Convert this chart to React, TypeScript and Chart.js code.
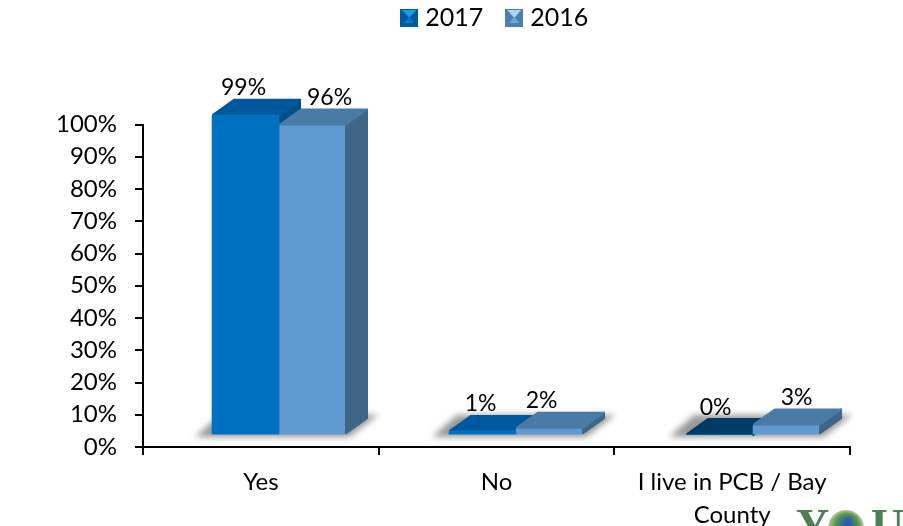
import React, { useEffect, useRef } from "react";
import { Chart, registerables } from "chart.js";

Chart.register(...registerables);

const categories = ["Yes", "No", ["I live in PCB / Bay", "County"]];
const seriesNames = ["2017", "2016"];
const values2017 = [99, 1, 0];
const values2016 = [96, 2, 3];
const yTicks = [0, 10, 20, 30, 40, 50, 60, 70, 80, 90, 100];
const FONT = "Lato, 'Open Sans', sans-serif";

const DX = 22;
const DY = 16;
const frontColors = ["#0070c0", "#5f9bd2"];
const topColors = ["#00589c", "#4a7aa6"];
const sideColors = ["#004f88", "#3f6588"];
const zeroTopColor = "#003a66";
const labelShiftX = [[-2, -2, -4], [17, -8, 10]];

function swatch(c1: string, c2: string, c3: string) {
  const c = document.createElement("canvas");
  c.width = 18;
  c.height = 18;
  const g = c.getContext("2d")!;
  const tri = (pts: number[][], col: string) => {
    g.fillStyle = col;
    g.beginPath();
    pts.forEach((p, i) => (i ? g.lineTo(p[0], p[1]) : g.moveTo(p[0], p[1])));
    g.closePath();
    g.fill();
  };
  tri([[0, 0], [18, 0], [18, 18], [0, 18]], c3);
  tri([[2, 1], [16, 1], [9, 9]], c1);
  tri([[4, 14], [14, 14], [9, 8]], c2);
  return c;
}

const box3d = {
  id: "box3d",
  beforeDatasetsDraw(chart: any) {
    const ctx = chart.ctx;
    ctx.save();
    ctx.filter = "blur(3px)";
    ctx.fillStyle = "#989898";
    const m0 = chart.getDatasetMeta(0).data;
    const m1 = chart.getDatasetMeta(1).data;
    m0.forEach((bar: any, i: number) => {
      const l = bar.x - bar.width / 2;
      const r = m1[i].x + m1[i].width / 2;
      const b = bar.base;
      ctx.beginPath();
      ctx.moveTo(l - 17, b + 3);
      ctx.lineTo(r + 3, b + 3);
      ctx.lineTo(r + DX + 10, b - DY - 3);
      ctx.lineTo(l + 8, b - DY - 3);
      ctx.closePath();
      ctx.fill();
    });
    ctx.restore();
    faces(chart, 0);
  },
  afterDatasetDraw(chart: any, args: any) {
    if (args.index === 1) faces(chart, 1);
  },
  afterDraw(chart: any) {
    const ctx = chart.ctx;
    ctx.save();
    ctx.font = `23px ${FONT}`;
    ctx.fillStyle = "#000";
    ctx.textAlign = "center";
    ctx.textBaseline = "middle";
    [values2017, values2016].forEach((vals, d) => {
      const meta = chart.getDatasetMeta(d).data;
      vals.forEach((v, i) => {
        ctx.fillText(`${v}%`, meta[i].x + labelShiftX[d][i], meta[i].y - 27);
      });
    });
    // logo fragment cut by the lower edge of the picture
    ctx.font = "bold 46px 'Liberation Serif', serif";
    ctx.fillStyle = "#4d7f52";
    ctx.textAlign = "left";
    ctx.textBaseline = "alphabetic";
    ctx.fillText("Y", 796, 541);
    ctx.fillText("U", 871, 541);
    const g = ctx.createRadialGradient(848, 522, 3, 846, 528, 18);
    g.addColorStop(0, "#2d5fa8");
    g.addColorStop(0.6, "#5f9a45");
    g.addColorStop(1, "#b6c9a0");
    ctx.fillStyle = g;
    ctx.beginPath();
    ctx.arc(846, 528, 18, 0, Math.PI * 2);
    ctx.fill();
    ctx.restore();
  },
};

function faces(chart: any, d: number) {
  const ctx = chart.ctx;
  const vals = d === 0 ? values2017 : values2016;
  chart.getDatasetMeta(d).data.forEach((bar: any, i: number) => {
    const l = bar.x - bar.width / 2;
    const r = bar.x + bar.width / 2;
    const t = bar.y;
    const b = bar.base;
    const poly = (pts: number[][], col: string) => {
      ctx.save();
      ctx.fillStyle = col;
      ctx.strokeStyle = col;
      ctx.lineWidth = 2;
      ctx.lineJoin = "round";
      ctx.beginPath();
      pts.forEach((p, k) => (k ? ctx.lineTo(p[0], p[1]) : ctx.moveTo(p[0], p[1])));
      ctx.closePath();
      ctx.fill();
      ctx.stroke();
      ctx.restore();
    };
    poly([[r, t + 1], [r + DX - 1, t - DY + 1], [r + DX - 1, b - DY], [r, b - 1]], sideColors[d]);
    poly(
      [[l + 1, t], [l + DX, t - DY + 1], [r + DX - 1, t - DY + 1], [r, t]],
      vals[i] === 0 ? zeroTopColor : topColors[d]
    );
  });
}

export default function App() {
  const ref = useRef<HTMLCanvasElement>(null);
  useEffect(() => {
    document.body.style.margin = "0";
    const chart = new Chart(ref.current!, {
      type: "bar",
      data: {
        labels: categories as any,
        datasets: [
          {
            label: seriesNames[0],
            data: values2017.map((y, x) => ({ x, y })),
            backgroundColor: frontColors[0],
            borderRadius: 2,
            clip: false,
            xAxisID: "xBars",
            yAxisID: "yBars",
            pointStyle: swatch("#1f9be6", "#0a78c8", "#005a9e"),
          },
          {
            label: seriesNames[1],
            data: values2016.map((y, x) => ({ x, y })),
            backgroundColor: frontColors[1],
            borderRadius: 2,
            clip: false,
            xAxisID: "xBars",
            yAxisID: "yBars",
            pointStyle: swatch("#a5d8f7", "#6fa8dc", "#4d7fae"),
          },
        ] as any,
      },
      options: {
        animation: false,
        responsive: false,
        datasets: { bar: { barThickness: 67 } } as any,
        layout: { padding: { top: 62, right: 53, left: 0, bottom: 0 } },
        plugins: {
          tooltip: { enabled: false },
          legend: {
            position: "top",
            align: "center",
            labels: {
              usePointStyle: true,
              boxWidth: 7,
              boxHeight: 18,
              padding: 27.5,
              color: "#000",
              font: { family: FONT, size: 25 },
            },
          },
        },
        scales: {
          x: {
            type: "category",
            position: "bottom",
            grid: {
              offset: true,
              drawOnChartArea: false,
              drawTicks: true,
              tickLength: 8,
              color: "#000",
              lineWidth: 2,
            },
            border: { color: "#000", width: 2 },
            ticks: {
              color: "#000",
              font: { family: FONT, size: 24, lineHeight: 1.38 },
              maxRotation: 0,
              autoSkip: false,
              padding: 11,
            },
            afterFit: (s: any) => { s.height = 79; },
          },
          y: {
            type: "linear",
            min: 0,
            max: 100,
            afterBuildTicks: (s: any) => { s.ticks = yTicks.map((value) => ({ value })); },
            grid: { drawOnChartArea: false, tickLength: 8, color: "#000", lineWidth: 2 },
            border: { color: "#000", width: 2 },
            ticks: { color: "#000", font: { family: FONT, size: 24 }, padding: 18, callback: (v: any) => `${v}%` },
            afterFit: (s: any) => { s.width = 143; },
          },
          xBars: { type: "linear", display: false, offset: false, min: -0.574, max: 2.409, position: "bottom" },
          yBars: { type: "linear", display: false, min: -4, max: 96, position: "left" },
        },
      } as any,
      plugins: [
        box3d,
        {
          id: "legendPlace",
          afterLayout(c: any) {
            const w = c.legend.width;
            c.legend.top = -22;
            c.legend.bottom = c.legend.top + c.legend.height;
            c.legend.left = 72;
            c.legend.right = c.legend.left + w;
          },
        },
      ],
    });
    return () => chart.destroy();
  }, []);
  return (
    <div style={{ position: "relative", width: 903, height: 526, overflow: "hidden" }}>
      <canvas ref={ref} width={903} height={526} style={{ display: "block" }} />
    </div>
  );
}
